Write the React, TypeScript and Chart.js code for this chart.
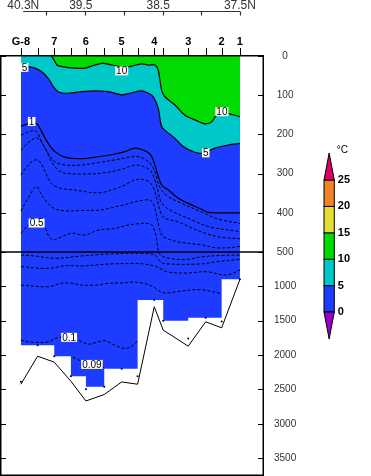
import React, { useEffect, useRef } from 'react';
import { Chart, registerables, LinearScale } from 'chart.js';

// ---------- data (x = latitude °N, y = depth m) ----------
const CAST_LATS = [40.33, 40.114, 39.899, 39.684, 39.49, 39.253, 39.028, 38.822, 38.607, 38.491, 38.168, 37.943, 37.736, 37.5];
const CAST_DEEPEST = [2390, 1856, 2016, 2308, 2497, 2461, 2198, 2308, 1200, 1499, 1758, 1458, 1513, 898];
const BOTTOM_DEPTH = [2424, 2016, 2103, 2380, 2668, 2574, 2391, 2424, 1297, 1637, 1870, 1516, 1603, 898];

const STATION_NAMES = ['G-8', '7', '6', '5', '4', '3', '2', '1'];
const STATION_LATS = [40.33, 39.899, 39.49, 39.028, 38.607, 38.168, 37.736, 37.5];

const LAT_TICKS = [40.0, 39.5, 39.0, 38.5, 38.0, 37.5];
const LAT_LABELS = ['40.3N', '39.5', '38.5', '37.5N'];
const LAT_LABEL_VALUES = [40.3, 39.5, 38.5, 37.5];

const DEPTH_TICKS = [0, 100, 200, 300, 400, 500, 1000, 1500, 2000, 2500, 3000, 3500];

const CBAR_LEVELS = [0, 5, 10, 15, 20, 25];
const CBAR_COLORS = ['#1e3cff', '#00c8c8', '#00dc00', '#e6dc32', '#f08228'];
const CBAR_UNDER = '#9600c8';
const CBAR_OVER = '#dc0064';

// isotherms
const C10 = [[39.935, 0], [39.903, 10], [39.864, 23], [39.8, 27], [39.632, 31], [39.503, 31], [39.373, 23], [39.27, 19], [39.154, 23], [39.025, 28], [38.921, 27], [38.77, 20], [38.685, 23], [38.598, 23], [38.556, 36], [38.512, 87], [38.469, 104], [38.34, 125], [38.211, 151], [38.081, 163], [37.952, 173], [37.866, 168], [37.801, 151], [37.72, 147], [37.629, 148], [37.5, 155]];
const C5 = [[40.33, 26], [40.235, 27], [40.149, 31], [40.062, 40], [39.977, 57], [39.912, 78], [39.848, 91], [39.718, 95], [39.545, 91], [39.373, 89], [39.202, 91], [39.028, 99], [38.921, 95], [38.77, 89], [38.685, 95], [38.62, 104], [38.556, 133], [38.512, 180], [38.447, 193], [38.34, 210], [38.233, 231], [38.103, 244], [37.995, 248], [37.823, 235], [37.651, 227], [37.5, 223]];
const C1 = [[40.33, 179], [40.236, 173], [40.127, 172], [40.062, 193], [39.977, 223], [39.89, 244], [39.761, 258], [39.545, 262], [39.331, 257], [39.115, 250], [38.986, 244], [38.857, 235], [38.749, 240], [38.663, 250], [38.611, 270], [38.572, 296], [38.512, 329], [38.426, 342], [38.297, 363], [38.168, 376], [37.995, 391], [37.91, 399], [37.758, 400], [37.5, 400]];
const C09 = [[40.33, 202], [40.191, 191], [40.127, 193], [40.062, 219], [39.977, 248], [39.89, 270], [39.761, 278], [39.545, 278], [39.331, 272], [39.115, 265], [38.899, 257], [38.814, 257], [38.749, 261], [38.663, 273], [38.598, 296], [38.556, 325], [38.512, 342], [38.426, 359], [38.253, 376], [37.995, 398], [37.78, 416], [37.5, 427]];
const C08 = [[40.33, 240], [40.191, 214], [40.106, 210], [40.019, 235], [39.933, 270], [39.848, 291], [39.761, 299], [39.545, 301], [39.287, 299], [39.028, 289], [38.857, 278], [38.749, 282], [38.663, 291], [38.598, 316], [38.556, 347], [38.512, 375], [38.404, 393], [38.146, 416], [37.888, 436], [37.5, 448]];
const C07 = [[40.33, 304], [40.235, 278], [40.149, 265], [40.084, 270], [40.019, 295], [39.977, 312], [39.929, 327], [39.826, 337], [39.632, 342], [39.331, 349], [39.115, 339], [38.986, 329], [38.857, 316], [38.727, 316], [38.637, 329], [38.585, 355], [38.534, 393], [38.482, 413], [38.301, 423], [38.12, 439], [37.952, 452], [37.758, 462], [37.5, 466]];
const C06 = [[40.33, 395], [40.236, 362], [40.127, 333], [40.062, 355], [39.977, 376], [39.89, 390], [39.739, 395], [39.545, 394], [39.309, 393], [39.18, 388], [38.986, 379], [38.857, 372], [38.685, 367], [38.62, 376], [38.576, 410], [38.534, 444], [38.491, 461], [38.297, 474], [37.995, 482], [37.823, 489], [37.651, 489], [37.5, 486]];
const C05 = [[40.33, 452], [40.226, 431], [40.123, 426], [40.019, 439], [39.977, 457], [39.916, 469], [39.848, 465], [39.674, 452], [39.503, 457], [39.331, 444], [39.115, 440], [38.943, 431], [38.727, 427], [38.637, 431], [38.592, 452], [38.566, 482], [38.547, 507], [38.508, 558], [38.404, 595], [38.189, 609], [38.017, 573], [37.758, 551], [37.5, 544]];
const C04 = [[40.33, 544], [40.149, 558], [39.89, 592], [39.545, 558], [39.202, 529], [38.727, 519], [38.598, 544], [38.559, 602], [38.491, 665], [38.017, 675], [37.801, 641], [37.5, 606]];
const C03 = [[40.33, 714], [39.977, 738], [39.739, 697], [39.545, 704], [39.202, 675], [38.879, 668], [38.727, 675], [38.576, 714], [38.447, 787], [38.189, 806], [37.93, 787], [37.672, 835], [37.5, 762]];
const C02 = [[40.33, 981], [39.977, 1006], [39.848, 966], [39.718, 948], [39.545, 981], [39.351, 981], [39.202, 956], [38.986, 948], [38.879, 937], [38.727, 959], [38.62, 1006], [38.491, 1093], [38.275, 1071], [38.017, 1047], [37.736, 1105]];
const C01 = [[40.33, 1783], [40.235, 1808], [39.977, 1808], [39.848, 1743], [39.709, 1739], [39.589, 1783], [39.46, 1841], [39.331, 1808], [39.244, 1793], [39.115, 1856], [38.986, 1904], [38.879, 1856], [38.822, 1783]];
const C009 = [[39.658, 2031], [39.545, 2089], [39.412, 2133], [39.253, 2184]];

const LABEL_TEXT = ['5', '10', '10', '5', '1', '0.5', '0.1', '0.09'];
const LABEL_LAT = [40.282, 39.028, 37.733, 37.942, 40.191, 40.127, 39.707, 39.412];
const LABEL_DEPTH = [29, 38, 142, 247, 167, 426, 1742, 2136];

// ---------- broken depth axis ----------
const BREAK_DEPTH = 500;
const MAX_DEPTH = 3760;
const UPPER_SHARE = 0.4667;

class BrokenDepthScale extends LinearScale {
  static id = 'brokenDepth';
  static defaults = {};
  getPixelForValue(value: number) {
    const top = this.top, bottom = this.bottom;
    const brk = top + (bottom - top) * UPPER_SHARE;
    if (value <= BREAK_DEPTH) return top + (value / BREAK_DEPTH) * (brk - top);
    return brk + ((value - BREAK_DEPTH) / (MAX_DEPTH - BREAK_DEPTH)) * (bottom - brk);
  }
  getValueForPixel(pixel: number) {
    const top = this.top, bottom = this.bottom;
    const brk = top + (bottom - top) * UPPER_SHARE;
    if (pixel <= brk) return ((pixel - top) / (brk - top)) * BREAK_DEPTH;
    return BREAK_DEPTH + ((pixel - brk) / (bottom - brk)) * (MAX_DEPTH - BREAK_DEPTH);
  }
}

Chart.register(...registerables, BrokenDepthScale as any);

const FONT = '"Liberation Sans", Arial, Helvetica, sans-serif';

const toPts = (a: number[][]) => a.map(([x, y]) => ({ x, y }));

const MASK = CAST_LATS.map((lat, i) => ({
  x: lat,
  y: i < CAST_LATS.length - 1 ? Math.min(CAST_DEEPEST[i], CAST_DEEPEST[i + 1]) : CAST_DEEPEST[i],
}));

const solidLine = (d: number[][]) => ({
  data: toPts(d), borderColor: '#000', borderWidth: 1.2, pointRadius: 0, fill: false, tension: 0.35, order: 2,
});
const dashLine = (d: number[][]) => ({
  data: toPts(d), borderColor: '#000', borderWidth: 1, borderDash: [3, 2], pointRadius: 0, fill: false, tension: 0.35, order: 2,
});

const decor = {
  id: 'decor',
  afterDraw(chart: any) {
    const { ctx, chartArea: a } = chart;
    const xs = chart.scales.x, ys = chart.scales.y;
    const X = (v: number) => xs.getPixelForValue(v);
    const Y = (v: number) => ys.getPixelForValue(v);
    const seg = (x1: number, y1: number, x2: number, y2: number) => {
      ctx.beginPath(); ctx.moveTo(x1, y1); ctx.lineTo(x2, y2); ctx.stroke();
    };
    ctx.save();

    // contour labels
    ctx.font = `10px ${FONT}`;
    ctx.textAlign = 'center';
    ctx.textBaseline = 'middle';
    LABEL_TEXT.forEach((t, i) => {
      const px = X(LABEL_LAT[i]), py = Y(LABEL_DEPTH[i]);
      const w = ctx.measureText(t).width + 2, h = 9;
      ctx.fillStyle = '#fff';
      ctx.fillRect(px - w / 2, py - h / 2, w, h);
      ctx.fillStyle = '#000';
      ctx.fillText(t, px, py + 0.5);
    });

    // 500 m break line
    ctx.strokeStyle = '#000';
    ctx.lineWidth = 1.5;
    const yb = Y(BREAK_DEPTH);
    seg(a.left, yb, a.right, yb);

    // inside depth ticks
    ctx.lineWidth = 1;
    DEPTH_TICKS.forEach((v) => {
      const py = Math.round(Y(v)) + 0.5;
      seg(a.left, py, a.left + 6, py);
      seg(a.right - 6, py, a.right, py);
    });

    // frame
    ctx.lineWidth = 1.5;
    ctx.strokeRect(a.left + 0.75, a.top - 0.25, a.right - a.left - 1.5, a.bottom - a.top - 0.5);

    // station axis
    ctx.lineWidth = 1;
    CAST_LATS.forEach((lat) => {
      const px = Math.round(X(lat)) + 0.5;
      seg(px, a.top - 8, px, a.top);
    });
    ctx.font = `bold 11px ${FONT}`;
    ctx.textBaseline = 'alphabetic';
    ctx.textAlign = 'center';
    ctx.fillStyle = '#000';
    STATION_NAMES.forEach((n, i) => ctx.fillText(n, X(STATION_LATS[i]), a.top - 11));

    // latitude axis
    const yl = 11.5;
    ctx.strokeStyle = '#333';
    ctx.lineWidth = 1.2;
    seg(X(LAT_LABEL_VALUES[0]), yl, X(LAT_LABEL_VALUES[LAT_LABEL_VALUES.length - 1]), yl);
    LAT_TICKS.forEach((v) => {
      const px = Math.round(X(v)) + 0.5;
      seg(px, yl, px, yl + 4);
    });
    ctx.font = `12px ${FONT}`;
    ctx.fillStyle = '#333';
    ctx.textAlign = 'left';
    LAT_LABELS.forEach((t, i) => {
      const full = t.endsWith('N') ? t : t + 'N';
      const w = ctx.measureText(full).width;
      ctx.fillText(t, X(LAT_LABEL_VALUES[i]) - w / 2, 8.5);
    });

    // colour bar
    const cx0 = 324, cw = 10.3, cTop = 180, cStep = 26.4, tip = 27;
    const n = CBAR_COLORS.length;
    const cBottom = cTop + n * cStep;
    ctx.strokeStyle = '#000';
    ctx.lineWidth = 1;
    CBAR_COLORS.forEach((c, i) => {
      const yTop = cTop + (n - 1 - i) * cStep;
      ctx.fillStyle = c;
      ctx.fillRect(cx0, yTop, cw, cStep);
      ctx.strokeRect(cx0, yTop, cw, cStep);
    });
    const tri = (yBase: number, yTip: number, col: string) => {
      ctx.beginPath();
      ctx.moveTo(cx0, yBase);
      ctx.lineTo(cx0 + cw / 2, yTip);
      ctx.lineTo(cx0 + cw, yBase);
      ctx.closePath();
      ctx.fillStyle = col;
      ctx.fill();
      ctx.stroke();
    };
    tri(cTop, cTop - tip, CBAR_OVER);
    tri(cBottom, cBottom + tip, CBAR_UNDER);
    ctx.font = `bold 11px ${FONT}`;
    ctx.fillStyle = '#000';
    ctx.textAlign = 'left';
    ctx.textBaseline = 'middle';
    CBAR_LEVELS.forEach((lv, i) => ctx.fillText(String(lv), cx0 + cw + 3.5, cBottom - i * cStep));
    ctx.font = `10px ${FONT}`;
    ctx.fillText('°C', cx0 + cw + 2.5, cTop - 29.5);

    ctx.restore();
  },
};

export default function App() {
  const ref = useRef<HTMLCanvasElement>(null);
  useEffect(() => {
    document.body.style.margin = '0';
    const chart = new Chart(ref.current as HTMLCanvasElement, {
      type: 'line',
      data: {
        datasets: [
          { data: MASK, stepped: true, fill: { value: 0 }, backgroundColor: CBAR_COLORS[0], borderColor: 'rgba(0,0,0,0)', borderWidth: 0, pointRadius: 0, order: 30 },
          { data: toPts(C5), fill: { value: 0 }, backgroundColor: CBAR_COLORS[1], borderColor: '#000', borderWidth: 1.2, pointRadius: 0, tension: 0.35, order: 20 },
          { data: toPts(C10), fill: { value: 0 }, backgroundColor: CBAR_COLORS[2], borderColor: '#000', borderWidth: 1.2, pointRadius: 0, tension: 0.35, order: 10 },
          solidLine(C1),
          dashLine(C09), dashLine(C08), dashLine(C07), dashLine(C06), dashLine(C05),
          dashLine(C04), dashLine(C03), dashLine(C02), dashLine(C01), dashLine(C009),
          { data: CAST_LATS.map((x, i) => ({ x, y: BOTTOM_DEPTH[i] })), borderColor: '#000', borderWidth: 1, pointRadius: 0, fill: false, tension: 0, order: 1 },
          { data: CAST_LATS.map((x, i) => ({ x, y: CAST_DEEPEST[i] })), showLine: false, pointRadius: 1, pointBackgroundColor: '#000', pointBorderWidth: 0, order: 0 },
        ] as any,
      },
      options: {
        responsive: false,
        animation: false,
        events: [],
        layout: { autoPadding: false, padding: { top: 56, left: 0, right: 0, bottom: 0 } },
        plugins: { legend: { display: false }, tooltip: { enabled: false } },
        scales: {
          x: { type: 'linear', display: false, reverse: true, min: 37.189, max: 40.6 },
          y: {
            type: 'brokenDepth' as any,
            position: 'right',
            min: 0,
            max: MAX_DEPTH,
            grid: { display: false, drawTicks: false },
            border: { display: false },
            ticks: {
              autoSkip: false,
              padding: 10,
              crossAlign: 'center',
              color: '#333',
              font: { family: FONT, size: 10 },
              callback: (v: any) => String(v),
            },
            afterBuildTicks: (s: any) => { s.ticks = DEPTH_TICKS.map((v) => ({ value: v })); },
            afterFit: (s: any) => { s.width = 107; s.paddingTop = 0; s.paddingBottom = 0; },
          } as any,
        },
      } as any,
      plugins: [decor],
    });
    return () => chart.destroy();
  }, []);
  return <canvas ref={ref} width={371} height={476} style={{ display: 'block' }} />;
}
